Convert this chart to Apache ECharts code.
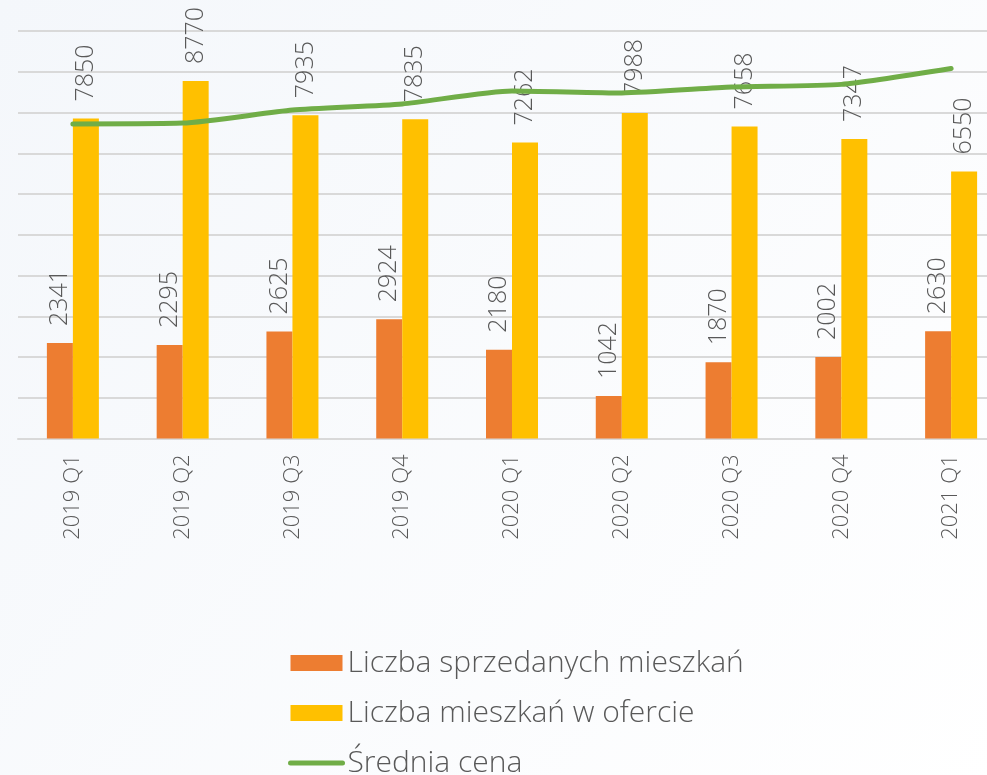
<!DOCTYPE html>
<html>
<head>
<meta charset="utf-8">
<script src="https://cdn.jsdelivr.net/npm/echarts@6/dist/echarts.min.js"></script>
<style>
html, body { margin: 0; padding: 0; overflow: hidden; background: #fbfcfe; }
#chart { width: 1006px; height: 775px; }
</style>
</head>
<body>
<div id="chart"></div>
<script>
var quarters = ['2019 Q1', '2019 Q2', '2019 Q3', '2019 Q4', '2020 Q1', '2020 Q2', '2020 Q3', '2020 Q4', '2021 Q1'];
var sold = [2341, 2295, 2625, 2924, 2180, 1042, 1870, 2002, 2630];
var offered = [7850, 8770, 7935, 7835, 7262, 7988, 7658, 7347, 6550];
// srednia cena - no axis shown, read against the same scale
var avgPrice = [7720, 7740, 8060, 8210, 8530, 8480, 8625, 8690, 9080];

var chart = echarts.init(document.getElementById('chart'));

var FONT = '"Open Sans"';

var barLabel = {
    show: true,
    position: 'top',
    rotate: 90,
    align: 'left',
    verticalAlign: 'middle',
    distance: 17,
    color: '#595959',
    fontFamily: FONT,
    fontWeight: 300,
    fontSize: 25
};

var option = {
    backgroundColor: new echarts.graphic.LinearGradient(0, 0, 1, 1, [
        {offset: 0, color: '#f4f7fb'},
        {offset: 1, color: '#ffffff'}
    ]),
    textStyle: { fontFamily: FONT },
    grid: { left: 18, right: 0, top: 31, bottom: 336.5 },
    legend: {
        orient: 'vertical',
        left: 283,
        top: 643,
        height: 140,
        itemWidth: 52,
        itemHeight: 16,
        itemGap: 20,
        textStyle: { color: '#595959', fontSize: 30, lineHeight: 30, fontFamily: FONT, fontWeight: 300 },
        data: [
            { name: 'Liczba sprzedanych mieszkań', icon: 'rect' },
            { name: 'Liczba mieszkań w ofercie', icon: 'rect' },
            { name: 'Średnia cena', itemStyle: { opacity: 0 }, lineStyle: { width: 5, cap: 'round' } }
        ]
    },
    xAxis: {
        type: 'category',
        data: quarters,
        axisLine: { lineStyle: { color: '#d9d9d9', width: 2 } },
        axisTick: { show: false },
        axisLabel: {
            rotate: 90,
            margin: 16,
            color: '#595959',
            fontSize: 22,
            fontFamily: FONT,
            fontWeight: 300
        }
    },
    yAxis: {
        type: 'value',
        min: 0,
        max: 10000,
        interval: 1000,
        axisLabel: { show: false },
        axisLine: { show: false },
        axisTick: { show: false },
        splitLine: { lineStyle: { color: '#d9d9d9', width: 2 } }
    },
    series: [
        {
            name: 'Liczba sprzedanych mieszkań',
            type: 'bar',
            data: sold,
            barWidth: 26,
            barGap: 0,
            itemStyle: { color: '#ED7D31' },
            label: barLabel
        },
        {
            name: 'Liczba mieszkań w ofercie',
            type: 'bar',
            data: offered,
            barWidth: 26,
            barGap: 0,
            itemStyle: { color: '#FFC000' },
            label: barLabel
        },
        {
            name: 'Średnia cena',
            type: 'line',
            data: avgPrice,
            smooth: 0.2,
            symbol: 'none',
            z: 5,
            lineStyle: { color: '#70AD47', width: 5, cap: 'round' },
            itemStyle: { color: '#70AD47' }
        }
    ]
};

chart.setOption(option);
</script>
</body>
</html>
